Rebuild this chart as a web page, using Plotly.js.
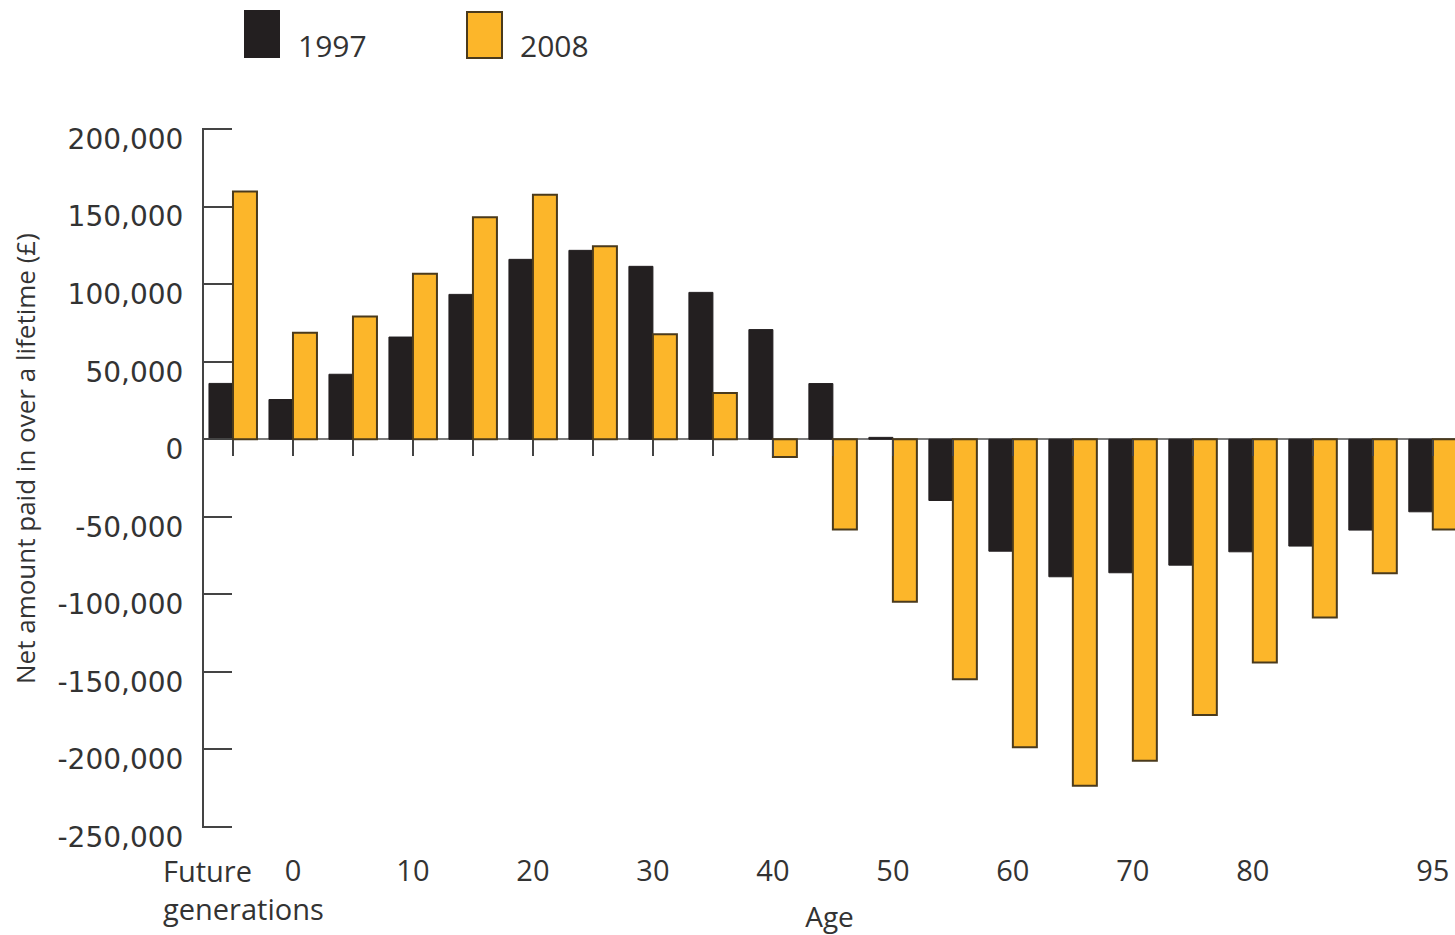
<!DOCTYPE html>
<html>
<head>
<meta charset="utf-8">
<script src="https://cdn.plot.ly/plotly-3.0.1.min.js"></script>
<style>
html,body{margin:0;padding:0;background:#fff;}
#chart{width:1455px;height:935px;}
</style>
</head>
<body>
<div id="chart"></div>
<script>
// ---- data ----
const ageGroups = ['Future generations','0','5','10','15','20','25','30','35','40','45','50','55','60','65','70','75','80','85','90','95'];
const values1997 = [36000, 25600, 41900, 65900, 93400, 116000, 121800, 111500, 94700, 70700, 35900, 1200, -39500, -72200, -88700, -86100, -81200, -72600, -68900, -58600, -46800];
const values2008 = [159800, 68700, 79200, 106700, 143200, 157600, 124500, 67700, 29800, -11400, -58200, -104800, -154800, -198700, -223400, -207300, -177800, -143900, -114900, -86500, -58200];
const xTickLabels = ['0','10','20','30','40','50','60','70','80','95'];
const yTickVals = [200000, 150000, 100000, 50000, 0, -50000, -100000, -150000, -200000, -250000];
const yTickText = ['200,000','150,000','100,000','50,000','0','-50,000','-100,000','-150,000','-200,000','-250,000'];
const seriesNames = ['1997', '2008'];
const yTitle = 'Net amount paid in over a lifetime (£)';
const xTitle = 'Age';
const firstGroupLabel = 'Future<br>generations';

// ---- geometry ----
const W = 1455, H = 935;
const M = {l: 204, r: 0, t: 128, b: 107};
const plotW = W - M.l - M.r, plotH = H - M.t - M.b;
const px2x = px => (px - M.l) / plotW;
const px2y = py => (H - M.b - py) / plotH;

const xIdx = ageGroups.map((_, i) => i);
const xTickVals = xTickLabels.map(l => ageGroups.indexOf(l));
const yMin = -250700, yMax = 200700;
const zeroFrac = (0 - yMin) / (yMax - yMin);

const BLACK = '#231f20';
const ORANGE = '#fcb62a';
const OUTLINE = '#4a3a1c';
const TEXT = '#333333';
const xRange = [-0.483, 20.37];

const traces = [
  {type: 'bar', name: seriesNames[0], x: xIdx, y: values1997, xaxis: 'x', yaxis: 'y',
   marker: {color: BLACK, line: {color: BLACK, width: 1}}, hoverinfo: 'x+y'},
  {type: 'bar', name: seriesNames[1], x: xIdx, y: values2008, xaxis: 'x', yaxis: 'y',
   marker: {color: ORANGE, line: {color: OUTLINE, width: 2}}, hoverinfo: 'x+y'},
  // carrier (draws nothing) so the zero-line tick axis is rendered
  {type: 'scatter', mode: 'none', x: xIdx, y: values1997, xaxis: 'x2', yaxis: 'y',
   hoverinfo: 'skip', showlegend: false}
];

const layout = {
  width: W, height: H,
  margin: M,
  paper_bgcolor: '#fff', plot_bgcolor: '#fff',
  showlegend: false,
  barmode: 'group', bargap: 0.2, bargroupgap: 0,
  font: {family: 'Open Sans, sans-serif', color: TEXT},
  xaxis: {
    range: xRange, domain: [0, 1], anchor: 'y', fixedrange: true,
    showline: false, showgrid: false, zeroline: false, ticks: '',
    tickmode: 'array', tickvals: xTickVals, ticktext: xTickLabels, tickangle: 0,
    tickfont: {family: 'Open Sans, sans-serif', size: 29, color: TEXT},
    ticklabelstandoff: 23,
    title: {text: xTitle, font: {family: 'Open Sans, sans-serif', size: 28, color: TEXT}, standoff: 20}
  },
  xaxis2: {
    range: xRange, overlaying: 'x', anchor: 'free', position: zeroFrac, fixedrange: true,
    showline: false, showgrid: false, zeroline: false,
    ticks: 'outside', ticklen: 16, tickwidth: 2, tickcolor: '#444',
    tickmode: 'array', tickvals: xIdx, showticklabels: false
  },
  yaxis: {
    range: [yMin, yMax], anchor: 'x', fixedrange: true,
    showline: true, linecolor: '#444', linewidth: 2,
    showgrid: false,
    zeroline: true, zerolinecolor: '#7a7a7a', zerolinewidth: 2,
    ticks: 'inside', ticklen: 28, tickwidth: 2, tickcolor: '#444',
    tickmode: 'array', tickvals: yTickVals, ticktext: yTickText,
    tickfont: {family: 'DejaVu Sans, sans-serif', size: 28, color: TEXT},
    ticklabelstandoff: 13, ticklabelshift: 10
  },
  shapes: [
    {type: 'rect', xref: 'paper', yref: 'paper', x0: px2x(244), x1: px2x(280), y0: px2y(58), y1: px2y(10),
     fillcolor: BLACK, line: {width: 0}},
    {type: 'rect', xref: 'paper', yref: 'paper', x0: px2x(467), x1: px2x(502), y0: px2y(58), y1: px2y(12),
     fillcolor: ORANGE, line: {color: OUTLINE, width: 2}}
  ],
  annotations: [
    {xref: 'paper', yref: 'paper', x: px2x(296), y: px2y(45), xanchor: 'left', yanchor: 'middle',
     text: seriesNames[0], showarrow: false, font: {family: 'Open Sans, sans-serif', size: 30, color: TEXT}},
    {xref: 'paper', yref: 'paper', x: px2x(518), y: px2y(46), xanchor: 'left', yanchor: 'middle',
     text: seriesNames[1], showarrow: false, font: {family: 'Open Sans, sans-serif', size: 30, color: TEXT}},
    {xref: 'x', yref: 'paper', x: 0, y: 0, xanchor: 'left', yanchor: 'top', xshift: -72, yshift: -21,
     align: 'left', text: firstGroupLabel, showarrow: false,
     font: {family: 'Open Sans, sans-serif', size: 29, color: TEXT}},
    {xref: 'paper', yref: 'paper', x: px2x(25), y: px2y(459), xanchor: 'center', yanchor: 'middle',
     textangle: -90, text: yTitle, showarrow: false,
     font: {family: 'Open Sans, sans-serif', size: 26, color: TEXT}}
  ]
};

Plotly.newPlot('chart', traces, layout, {displayModeBar: false, staticPlot: true});
</script>
</body>
</html>
